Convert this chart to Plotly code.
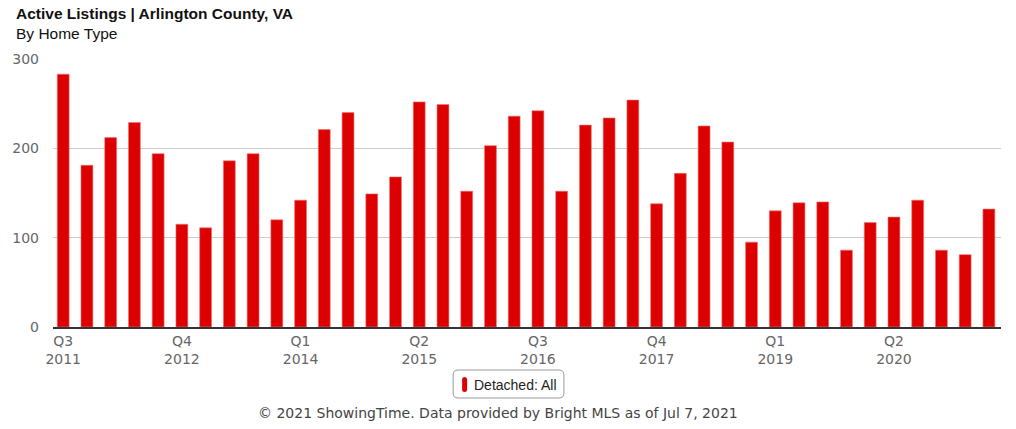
import plotly.graph_objects as go

quarters = ["Q3", "Q4", "Q1", "Q2"] * 10
years = [2011, 2011, 2012, 2012, 2012, 2012, 2013, 2013, 2013, 2013,
         2014, 2014, 2014, 2014, 2015, 2015, 2015, 2015, 2016, 2016,
         2016, 2016, 2017, 2017, 2017, 2017, 2018, 2018, 2018, 2018,
         2019, 2019, 2019, 2019, 2020, 2020, 2020, 2020, 2021, 2021]
detached_all = [283, 181, 212, 229, 194, 115, 111, 186, 194, 120,
                142, 221, 240, 149, 168, 252, 249, 152, 203, 236,
                242, 152, 226, 234, 254, 138, 172, 225, 207, 95,
                130, 139, 140, 86, 117, 123, 142, 86, 81, 132]
series_name = "Detached: All"
y_ticks = [0, 100, 200, 300]
title_text = "Active Listings | Arlington County, VA"
subtitle_text = "By Home Type"
footer_text = "© 2021 ShowingTime. Data provided by Bright MLS as of Jul 7, 2021"

W, H = 1016, 429
L, R, T, B = 51, 15, 59, 102
pw, ph = W - L - R, H - T - B

def px(x):
    return (x - L) / pw

def py(y):
    return (H - B - y) / ph

idx = list(range(len(detached_all)))
tickvals = idx[::5]
ticktext = [f"{quarters[i]}<br>{years[i]}" for i in tickvals]

fig = go.Figure()
fig.add_trace(go.Bar(
    x=idx, y=detached_all, name=series_name,
    marker=dict(color="#dd0000", line=dict(color="#f07070", width=0.6)),
    width=0.5, showlegend=False,
))

fig.update_layout(
    width=W, height=H,
    margin=dict(l=L, r=R, t=T, b=B, pad=0),
    plot_bgcolor="white", paper_bgcolor="white",
    font=dict(family="DejaVu Sans", color="#666666", size=14),
    xaxis=dict(
        range=[-0.43, 39.51], tickvals=tickvals, ticktext=ticktext,
        showgrid=False, zeroline=False, showline=True,
        linecolor="#333333", linewidth=2, ticks="",
        tickfont=dict(family="DejaVu Sans", size=14, color="#666666"),
        fixedrange=True,
    ),
    yaxis=dict(
        range=[0, 300], tickvals=y_ticks, showgrid=True,
        gridcolor="#cccccc", gridwidth=1, zeroline=False,
        showline=False, ticks="", ticklabelstandoff=13,
        tickfont=dict(family="DejaVu Sans", size=14, color="#666666"),
        fixedrange=True,
    ),
    showlegend=False,
)

annotations = [
    dict(text=f"<b>{title_text}</b>", x=px(12), y=py(14), xref="paper", yref="paper",
         xanchor="left", yanchor="middle", showarrow=False,
         font=dict(family="Liberation Sans", size=15.5, color="#111111")),
    dict(text=subtitle_text, x=px(12), y=py(33), xref="paper", yref="paper",
         xanchor="left", yanchor="middle", showarrow=False,
         font=dict(family="Liberation Sans", size=15.5, color="#111111")),
    dict(text=series_name, x=px(471), y=py(385), xref="paper", yref="paper",
         xanchor="left", yanchor="middle", showarrow=False,
         font=dict(family="Liberation Sans", size=14, color="#222222")),
    dict(text=footer_text, x=px(497), y=py(413), xref="paper", yref="paper",
         xanchor="center", yanchor="middle", showarrow=False,
         font=dict(family="DejaVu Sans", size=14, color="#444444")),
]
fig.update_layout(annotations=annotations)

def rounded_rect(x0, y0, x1, y1, r):
    X = lambda v: px(v)
    Y = lambda v: py(v)
    return (f"M {X(x0 + r)},{Y(y0)} L {X(x1 - r)},{Y(y0)} "
            f"Q {X(x1)},{Y(y0)} {X(x1)},{Y(y0 + r)} L {X(x1)},{Y(y1 - r)} "
            f"Q {X(x1)},{Y(y1)} {X(x1 - r)},{Y(y1)} L {X(x0 + r)},{Y(y1)} "
            f"Q {X(x0)},{Y(y1)} {X(x0)},{Y(y1 - r)} L {X(x0)},{Y(y0 + r)} "
            f"Q {X(x0)},{Y(y0)} {X(x0 + r)},{Y(y0)} Z")

fig.update_layout(shapes=[
    dict(type="path", xref="paper", yref="paper",
         path=rounded_rect(452, 370, 563, 398, 5),
         line=dict(color="#999999", width=1), fillcolor="white"),
    dict(type="path", xref="paper", yref="paper",
         path=rounded_rect(461, 377, 466, 392, 2.5),
         line=dict(color="#dd0000", width=0), fillcolor="#dd0000"),
])

fig.write_html("out.html", config={"displayModeBar": False},
               post_script="document.body.style.margin='0';")
